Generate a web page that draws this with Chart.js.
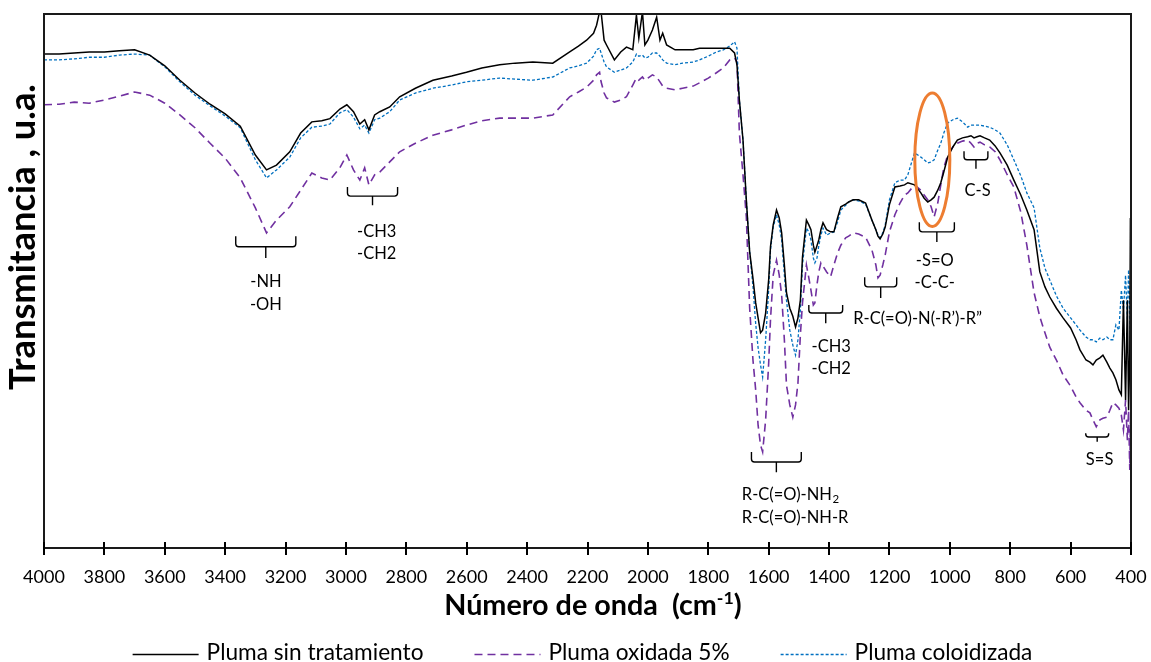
<!DOCTYPE html>
<html>
<head>
<meta charset="utf-8">
<script src="https://cdn.jsdelivr.net/npm/chart.js@4.4.1/dist/chart.umd.min.js"></script>
<style>
  html, body { margin: 0; padding: 0; background: #ffffff; }
  #wrap { width: 1151px; height: 662px; position: relative; }
</style>
</head>
<body>
<div id="wrap"><canvas id="ftir" width="1151" height="662"></canvas></div>
<script>
// Wavenumber grid (cm-1), shared by the three spectra
const numeroDeOnda = [
  4000,3950,3900,3850,3800,3750,3700,3650,3600,3550,
  3500,3450,3400,3350,3300,3263,3230,3186,3150,3113,
  3080,3053,3020,2997,2975,2954,2938,2924,2905,2888,
  2855,2822,2770,2712,2650,2601,2550,2491,2440,2381,
  2315,2259,2230,2203,2180,2170,2160,2155,2145,2137,
  2111,2090,2071,2050,2038,2030,2018,2010,2000,1985,
  1971,1960,1951,1938,1910,1885,1850,1829,1800,1773,
  1750,1729,1713,1705,1697,1685,1674,1663,1652,1643,
  1635,1627,1620,1610,1600,1594,1585,1574,1565,1557,
  1548,1541,1530,1520,1511,1503,1495,1488,1475,1467,
  1460,1452,1447,1440,1434,1427,1420,1408,1395,1384,
  1372,1361,1345,1335,1320,1302,1279,1258,1245,1238,
  1231,1222,1214,1200,1182,1165,1150,1139,1117,1096,
  1085,1073,1062,1052,1040,1030,1020,1007,990,975,
  958,941,930,920,910,900,885,868,850,834,
  810,788,765,745,721,702,685,669,647,625,
  600,582,569,549,536,526,515,503,493,480,
  470,460,450,440,432,425,418,412,408,404,
  402,400
];

// Transmittance (arbitrary units) — untreated feather
const plumaSinTratamiento = [
  92.5,92.5,92.7,92.9,92.9,93.1,93.3,92.3,90.3,87.6,
  85.2,83.1,81.3,79.0,73.6,70.8,71.7,74.2,77.7,79.8,
  80.0,80.4,82.2,83.0,81.7,79.4,80.2,78.3,81.1,81.7,
  82.6,84.5,86.1,87.6,88.4,89.1,89.9,90.5,90.8,91.0,
  90.8,92.9,94.0,95.1,96.4,97.9,100.4,100.4,95.1,94.2,
  91.4,92.9,93.8,93.3,99.8,95.5,100.4,94.2,95.1,97.0,
  99.4,95.1,96.4,94.2,93.3,93.3,93.3,93.6,93.6,93.6,
  93.6,93.6,92.7,90.5,83.9,76.4,65.2,55.5,50.5,45.9,
  43.1,40.3,40.8,44.0,50.2,56.4,60.5,63.3,61.8,59.0,
  53.0,47.8,44.9,43.4,41.4,43.1,46.4,54.5,61.4,60.5,
  59.6,56.7,55.4,56.6,57.7,59.6,60.9,59.6,59.2,59.2,
  61.8,63.9,64.4,64.8,65.2,65.2,64.6,61.4,59.6,58.4,
  57.9,58.8,60.1,64.3,67.6,67.8,68.0,68.4,68.0,66.5,
  65.5,64.8,65.2,65.7,67.0,68.4,70.4,73.2,75.1,76.4,
  76.8,77.0,77.2,76.8,77.0,77.2,76.8,76.4,75.3,74.0,
  71.7,68.9,66.1,63.3,59.6,51.7,48.9,47.0,44.9,43.1,
  41.2,39.0,37.1,35.2,34.8,34.3,35.2,35.6,36.1,34.8,
  33.7,32.8,31.5,29.6,28.7,46.4,27.7,46.4,25.8,37.1,
  61.8,1.5
];

// Transmittance (arbitrary units) — feather oxidised with 5 %
const plumaOxidada5 = [
  83.0,83.1,83.5,83.3,83.9,84.6,85.4,84.8,83.3,81.1,
  78.7,75.8,73.0,69.3,63.7,59.0,61.4,63.9,67.0,70.2,
  69.3,68.9,71.2,73.6,70.8,68.9,71.2,68.0,69.9,70.4,
  72.3,74.2,75.8,77.3,78.3,79.2,80.0,80.5,80.5,80.5,
  81.1,84.5,85.4,86.3,87.6,88.6,89.1,87.3,85.2,84.3,
  83.5,83.9,84.5,86.7,88.0,87.6,88.2,87.6,88.0,88.6,
  88.2,87.3,86.5,86.1,85.8,86.1,86.5,87.1,88.0,89.0,
  89.9,91.4,91.8,91.0,77.7,69.9,62.0,45.0,35.2,29.6,
  23.0,19.3,18.0,24.0,34.6,42.7,51.1,53.9,51.1,47.4,
  39.0,30.5,26.8,24.5,26.8,30.9,39.9,45.9,53.0,50.6,
  48.3,45.5,45.9,49.3,51.7,53.4,52.8,51.7,50.8,53.0,
  55.2,56.7,58.1,58.4,59.0,58.8,58.2,55.8,53.0,50.6,
  51.1,53.0,54.9,59.2,62.4,64.6,66.1,66.5,68.0,67.0,
  66.1,65.2,63.9,62.0,64.6,68.0,71.2,73.6,75.1,75.8,
  76.2,76.4,75.8,75.1,75.8,76.0,75.5,75.1,74.2,72.7,
  69.9,67.6,62.9,56.7,47.8,43.3,40.3,37.6,35.2,32.4,
  30.3,28.3,27.2,25.8,25.3,24.0,22.7,24.0,24.3,24.5,
  25.8,27.2,26.8,26.2,24.9,22.1,27.7,20.2,25.8,14.6,
  24.0,20.2
];

// Transmittance (arbitrary units) — colloidised feather
const plumaColoidizada = [
  91.4,91.4,91.6,91.9,91.9,92.3,92.5,92.3,90.1,87.3,
  84.8,82.8,80.9,78.7,72.7,69.3,70.8,73.2,76.8,78.8,
  79.0,79.4,81.5,82.1,80.7,78.5,79.2,77.7,80.2,80.5,
  81.7,83.9,85.2,86.1,86.7,87.3,87.6,88.0,87.8,87.6,
  88.2,89.9,90.3,90.8,92.1,93.3,93.6,92.7,91.0,90.1,
  89.1,89.5,89.9,91.0,92.5,92.1,92.3,91.8,91.9,92.7,
  92.7,92.1,91.4,90.8,90.5,90.8,91.0,91.4,92.1,92.9,
  93.3,94.0,94.8,93.6,83.9,76.4,65.2,55.5,49.0,42.0,
  37.5,34.3,32.0,39.0,48.3,55.8,60.1,62.4,60.5,57.7,
  51.1,46.4,40.8,38.0,36.1,39.0,44.6,53.0,59.9,59.2,
  57.7,54.3,53.4,54.3,56.6,58.6,59.9,58.6,59.0,59.2,
  61.0,63.3,64.2,64.8,65.2,65.0,64.4,61.4,59.6,58.6,
  58.1,59.0,60.5,65.2,68.4,68.9,68.9,69.9,74.0,73.2,
  72.7,72.1,72.3,72.7,74.5,75.8,77.7,79.6,80.2,80.5,
  79.8,78.8,79.2,79.2,79.2,79.2,79.0,78.8,78.3,77.7,
  75.5,72.7,69.7,66.5,63.7,56.2,52.4,50.2,47.2,44.9,
  43.1,41.8,40.8,39.5,39.0,39.0,38.6,39.3,39.0,39.5,
  39.0,39.0,41.8,40.8,48.3,44.6,51.1,42.7,52.1,44.6,
  40.8,31.5
];

// Axis ticks along the wavenumber axis
const marcasX = [4000,3800,3600,3400,3200,3000,2800,2600,2400,2200,2000,1800,1600,1400,1200,1000,800,600,400];

// Band braces: wavenumber span, and the heights of the brace ends, bar and tip
const llaves = [
  {desde: 3365, hasta: 3166, borde: 58.4, base: 56.4, punta: 54.3},
  {desde: 2995, hasta: 2829, borde: 67.6, base: 65.9, punta: 64.2},
  {desde: 1657, hasta: 1492, borde: 18.0, base: 16.1, punta: 14.2},
  {desde: 1467, hasta: 1355, borde: 45.5, base: 44.0, punta: 42.1},
  {desde: 1282, hasta: 1176, borde: 50.7, base: 48.9, punta: 46.8},
  {desde: 1101, hasta: 985,  borde: 61.0, base: 59.2, punta: 57.3},
  {desde: 953,  hasta: 874,  borde: 74.3, base: 72.7, punta: 71.0},
  {desde: 550,  hasta: 474,  borde: 21.5, base: 20.8, punta: 19.9}
];

// Band assignments
const etiquetas = [
  {texto: '-NH',  x: 3265, y: 49.8, alinear: 'center'},
  {texto: '-OH',  x: 3265, y: 45.5, alinear: 'center'},
  {texto: '-CH3', x: 2898, y: 59.3, alinear: 'center'},
  {texto: '-CH2', x: 2898, y: 55.2, alinear: 'center'},
  {texto: 'R-C(=O)-NH', sub: '2', x: 1689, y: 9.9, alinear: 'left'},
  {texto: 'R-C(=O)-NH-R', x: 1689, y: 5.7, alinear: 'left'},
  {texto: '-CH3', x: 1458, y: 37.7, alinear: 'left'},
  {texto: '-CH2', x: 1458, y: 33.5, alinear: 'left'},
  {texto: 'R-C(=O)-N(-R\u2019)-R\u201D', x: 1320, y: 43.0, alinear: 'left'},
  {texto: '-S=O',  x: 1050, y: 53.9, alinear: 'center'},
  {texto: '-C-C-', x: 1050, y: 49.6, alinear: 'center'},
  {texto: 'C-S', x: 908, y: 67.0, alinear: 'center'},
  {texto: 'S=S', x: 504, y: 16.5, alinear: 'center'}
];

// Highlighted S=O region (ellipse centre and half-extents, in data units)
const resaltado = {x: 1058, mediaAnchura: 58, y: 72.7, mediaAltura: 12.5};

const FUENTE = 'Lato, "Open Sans", "DejaVu Sans", sans-serif';

function puntos(valores) {
  return numeroDeOnda.map((w, i) => ({x: w, y: valores[i]}));
}

// font size giving a text run the requested width
function tamanoPara(ctx, texto, peso, ancho) {
  ctx.font = peso + ' 100px ' + FUENTE;
  return 100 * ancho / ctx.measureText(texto).width;
}

const decoraciones = {
  id: 'decoraciones',
  afterDatasetsDraw(chart) {
    const ctx = chart.ctx;
    const a = chart.chartArea;
    const xs = chart.scales.x;
    const ys = chart.scales.y;
    ctx.save();

    // plot frame
    ctx.strokeStyle = '#1a1a1a';
    ctx.lineWidth = 2;
    ctx.strokeRect(a.left, a.top, a.right - a.left, a.bottom - a.top);

    // tick marks crossing the bottom axis
    ctx.lineWidth = 2;
    ctx.strokeStyle = '#000';
    ctx.beginPath();
    xs.ticks.forEach(t => {
      const px = Math.round(xs.getPixelForValue(t.value));
      ctx.moveTo(px, a.bottom - 6);
      ctx.lineTo(px, a.bottom + 7);
    });
    ctx.stroke();

    // band braces
    ctx.lineWidth = 1.4;
    ctx.strokeStyle = '#000';
    llaves.forEach(b => {
      const xl = xs.getPixelForValue(b.desde);
      const xr = xs.getPixelForValue(b.hasta);
      const xc = (xl + xr) / 2;
      const yt = ys.getPixelForValue(b.borde);
      const ym = ys.getPixelForValue(b.base);
      const yb = ys.getPixelForValue(b.punta);
      const r = Math.min(3, (ym - yt));
      ctx.beginPath();
      ctx.moveTo(xl, yt);
      ctx.lineTo(xl, ym - r);
      ctx.quadraticCurveTo(xl, ym, xl + r, ym);
      ctx.lineTo(xr - r, ym);
      ctx.quadraticCurveTo(xr, ym, xr, ym - r);
      ctx.lineTo(xr, yt);
      ctx.moveTo(xc, ym);
      ctx.lineTo(xc, yb);
      ctx.stroke();
    });

    // band labels
    ctx.fillStyle = '#000';
    ctx.textBaseline = 'middle';
    etiquetas.forEach(e => {
      ctx.font = '16.5px ' + FUENTE;
      ctx.textAlign = e.alinear;
      const px = xs.getPixelForValue(e.x);
      const py = ys.getPixelForValue(e.y);
      ctx.fillText(e.texto, px, py);
      if (e.sub) {
        const w = ctx.measureText(e.texto).width;
        ctx.font = '11.5px ' + FUENTE;
        ctx.textAlign = 'left';
        ctx.fillText(e.sub, px + w + 0.5, py + 4);
      }
    });

    // highlighted region
    const ex = xs.getPixelForValue(resaltado.x);
    const erx = Math.abs(xs.getPixelForValue(resaltado.x - resaltado.mediaAnchura) - ex);
    const ey = ys.getPixelForValue(resaltado.y);
    const ery = Math.abs(ys.getPixelForValue(resaltado.y + resaltado.mediaAltura) - ey);
    ctx.beginPath();
    ctx.ellipse(ex, ey, erx, ery, 0, 0, Math.PI * 2);
    ctx.strokeStyle = '#ED7D31';
    ctx.lineWidth = 3;
    ctx.stroke();

    ctx.restore();
  },
  afterDraw(chart) {
    const ctx = chart.ctx;
    ctx.save();
    ctx.fillStyle = '#000';

    // y-axis title
    const tituloY = 'Transmitancia , u.a.';
    const fy = tamanoPara(ctx, tituloY, 'bold', 306);
    ctx.save();
    ctx.translate(23, 237);
    ctx.rotate(-Math.PI / 2);
    ctx.font = 'bold ' + fy + 'px ' + FUENTE;
    ctx.textAlign = 'center';
    ctx.textBaseline = 'middle';
    ctx.fillText(tituloY, 0, 0);
    ctx.restore();

    // x-axis title with superscript
    const base = 'Número de onda  (cm';
    const sup = '-1';
    const end = ')';
    const fx = tamanoPara(ctx, base + end, 'bold', 280);
    const fs = fx * 0.62;
    ctx.font = 'bold ' + fx + 'px ' + FUENTE;
    const wBase = ctx.measureText(base).width;
    const wEnd = ctx.measureText(end).width;
    ctx.font = 'bold ' + fs + 'px ' + FUENTE;
    const wSup = ctx.measureText(sup).width;
    const total = wBase + wSup + wEnd;
    const x0 = 593 - total / 2;
    const yT = 615;
    ctx.textBaseline = 'alphabetic';
    ctx.textAlign = 'left';
    ctx.font = 'bold ' + fx + 'px ' + FUENTE;
    ctx.fillText(base, x0, yT);
    ctx.font = 'bold ' + fs + 'px ' + FUENTE;
    ctx.fillText(sup, x0 + wBase, yT - fx * 0.38);
    ctx.font = 'bold ' + fx + 'px ' + FUENTE;
    ctx.fillText(end, x0 + wBase + wSup, yT);

    // legend
    const ds = chart.data.datasets;
    const fl = tamanoPara(ctx, ds[0].label, 'normal', 217);
    ctx.font = fl + 'px ' + FUENTE;
    const muestra = 66, hueco = 8, separa = 51;
    const anchos = ds.map(d => ctx.measureText(d.label).width);
    const totalL = anchos.reduce((s, w) => s + muestra + hueco + w, 0) + separa * (ds.length - 1);
    let lx = 582.5 - totalL / 2;
    const ly = 653;
    ds.forEach((d, i) => {
      ctx.beginPath();
      ctx.setLineDash(d.borderDash || []);
      ctx.strokeStyle = d.borderColor;
      ctx.lineWidth = d.borderWidth;
      ctx.moveTo(lx, ly + 1.5);
      ctx.lineTo(lx + muestra, ly + 1.5);
      ctx.stroke();
      ctx.setLineDash([]);
      ctx.fillStyle = '#000';
      ctx.textBaseline = 'middle';
      ctx.textAlign = 'left';
      ctx.fillText(d.label, lx + muestra + hueco, ly);
      lx += muestra + hueco + anchos[i] + separa;
    });
    ctx.restore();
  }
};

new Chart(document.getElementById('ftir'), {
  type: 'line',
  data: {
    datasets: [
      {
        label: 'Pluma sin tratamiento',
        data: puntos(plumaSinTratamiento),
        borderColor: '#000000',
        borderWidth: 1.5,
        pointRadius: 0,
        tension: 0,
        order: 1
      },
      {
        label: 'Pluma oxidada 5%',
        data: puntos(plumaOxidada5),
        borderColor: '#7030A0',
        borderWidth: 1.6,
        borderDash: [8, 5],
        pointRadius: 0,
        tension: 0,
        order: 3
      },
      {
        label: 'Pluma coloidizada',
        data: puntos(plumaColoidizada),
        borderColor: '#0070C0',
        borderWidth: 1.3,
        borderDash: [3, 2],
        pointRadius: 0,
        tension: 0,
        order: 2
      }
    ]
  },
  options: {
    responsive: false,
    devicePixelRatio: 1,
    animation: false,
    layout: { padding: { left: 44, right: 20, top: 14, bottom: 70 } },
    plugins: { legend: { display: false }, tooltip: { enabled: false } },
    scales: {
      x: {
        type: 'linear',
        reverse: true,
        min: 400,
        max: 4000,
        afterBuildTicks(scale) { scale.ticks = marcasX.map(v => ({value: v})); },
        afterFit(scale) {
          scale.height = 44;
          scale.paddingLeft = 10;
          scale.paddingRight = 10;
        },
        grid: { display: false, drawTicks: false },
        border: { display: false },
        ticks: {
          autoSkip: false,
          maxRotation: 0,
          padding: 18,
          color: '#000',
          font: { family: FUENTE, size: 18 },
          callback: v => String(v)
        }
      },
      y: {
        display: false,
        min: 0,
        max: 100
      }
    }
  },
  plugins: [decoraciones]
});
</script>
</body>
</html>
